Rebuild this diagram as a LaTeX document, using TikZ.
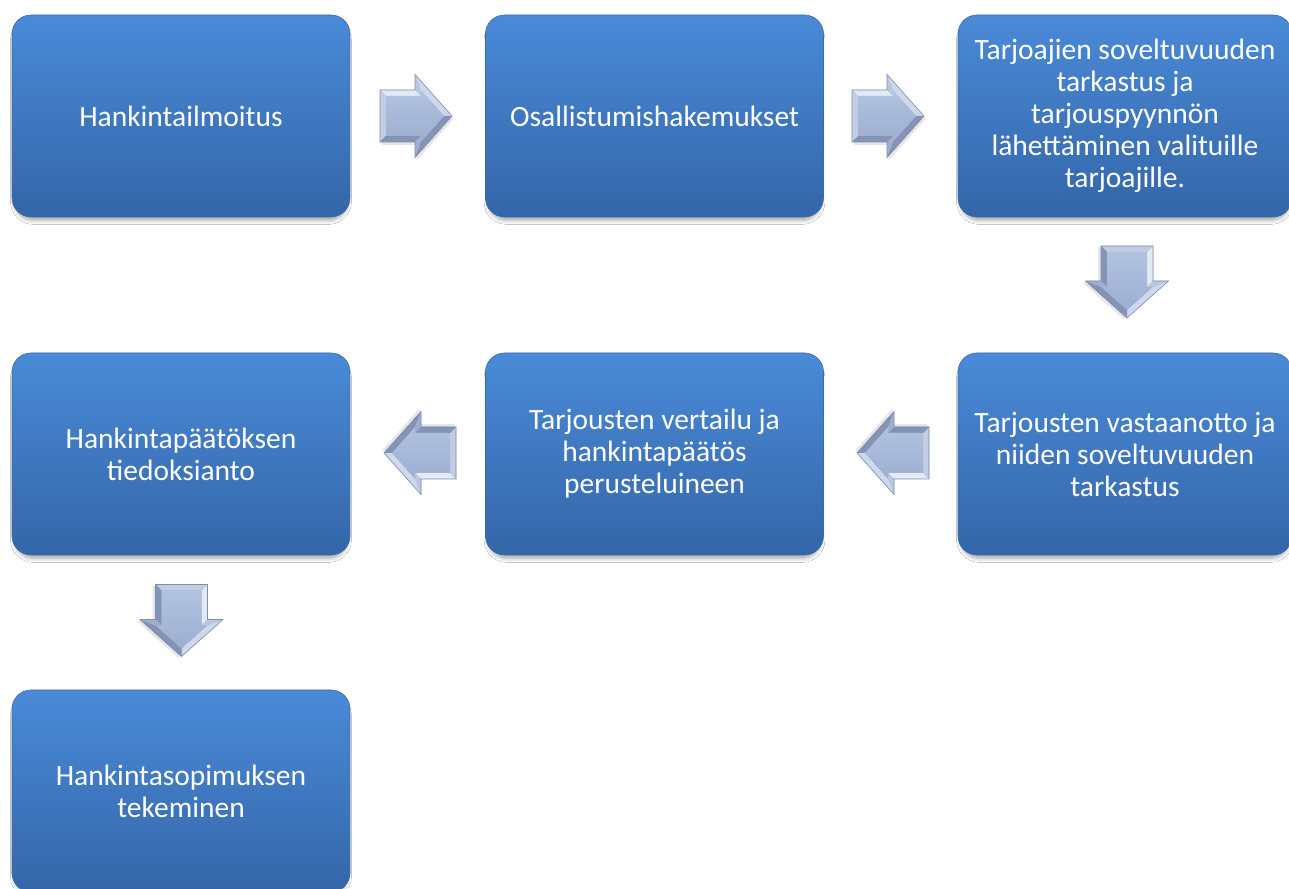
\documentclass[tikz,border=0pt]{standalone}
\usepackage{fontspec}
\setmainfont{Carlito}
\usetikzlibrary{shadows.blur}
\definecolor{boxtop}{RGB}{74,138,216}
\definecolor{boxmid}{RGB}{64,124,204}
\definecolor{boxbot}{RGB}{52,102,168}
\definecolor{boxline}{RGB}{58,106,172}
\definecolor{arrface}{RGB}{178,194,224}
\definecolor{arrfacelo}{RGB}{158,174,208}
\definecolor{arrlight}{RGB}{226,234,246}
\definecolor{arrmed}{RGB}{160,175,208}
\definecolor{arrdark}{RGB}{132,147,182}
\definecolor{arrline}{RGB}{128,142,174}
\tikzset{
  stepbox/.style={draw=boxline, line width=0.6pt, rounded corners=19pt,
    top color=boxtop, middle color=boxmid, bottom color=boxbot,
    minimum width=338pt, minimum height=202pt, inner sep=0pt,
    text=white, align=center, font=\fontsize{29.5}{32}\selectfont,
    blur shadow={shadow xshift=0pt, shadow yshift=-5pt, shadow blur radius=4pt, shadow opacity=35, shadow scale=0.985}},
}
\newcommand{\blockarrow}[2]{%
  \begin{scope}[shift={(#1)}, rotate=#2]
    \fill[black, opacity=0.10, xshift=1.5pt, yshift=-3pt]
      (-36,26) -- (-1,26) -- (-1,41.5) -- (36,0) -- (-1,-41.5) -- (-1,-26) -- (-36,-26) -- cycle;
    % outer base
    \fill[arrmed] (-36,26) -- (-1,26) -- (-1,41.5) -- (36,0) -- (-1,-41.5) -- (-1,-26) -- (-36,-26) -- cycle;
    % light faces
    \fill[arrlight] (-36,26) -- (-1,26) -- (5,20) -- (-30,20) -- cycle;
    \fill[arrlight!70!arrmed] (-1,41.5) -- (36,0) -- (27.96,0) -- (5,25.76) -- cycle;
    \fill[arrlight!50!arrmed] (-36,26) -- (-30,20) -- (-30,-20) -- (-36,-26) -- cycle;
    % dark faces
    \fill[arrdark] (-36,-26) -- (-1,-26) -- (5,-20) -- (-30,-20) -- cycle;
    \fill[arrdark] (-1,-41.5) -- (36,0) -- (27.96,0) -- (5,-25.76) -- cycle;
    \fill[arrmed] (-1,-41.5) -- (-1,-26) -- (5,-20) -- (5,-25.76) -- cycle;
    \fill[arrlight!40!arrmed] (-1,26) -- (-1,41.5) -- (5,25.76) -- (5,20) -- cycle;
    % main face
    \shade[top color=arrface, bottom color=arrfacelo]
      (-30,20) -- (5,20) -- (5,25.76) -- (27.96,0) -- (5,-25.76) -- (5,-20) -- (-30,-20) -- cycle;
    \draw[arrline, line width=0.6pt, line join=miter]
      (-36,26) -- (-1,26) -- (-1,41.5) -- (36,0) -- (-1,-41.5) -- (-1,-26) -- (-36,-26) -- cycle;
  \end{scope}}
\begin{document}
\begin{tikzpicture}[x=1pt, y=1pt]
  \useasboundingbox[fill=white] (0,0) rectangle (1289,888);
  % boxes
  \node[stepbox] (b1) at (181,772) {Hankintailmoitus};
  \node[stepbox] (b2) at (654.5,772) {Osallistumishakemukset};
  \node[stepbox, minimum width=334pt] (b3) at (1125,772)
    {Tarjoajien soveltuvuuden\\tarkastus ja\\tarjouspyynnön\\lähettäminen valituille\\tarjoajille.};
  \node[stepbox, minimum width=334pt] (b4) at (1125,434)
    {Tarjousten vastaanotto ja\\niiden soveltuvuuden\\tarkastus};
  \node[stepbox] (b5) at (654.5,434)
    {Tarjousten vertailu ja\\hankintapäätös\\perusteluineen};
  \node[stepbox] (b6) at (181,434) {Hankintapäätöksen\\tiedoksianto};
  \node[stepbox] (b7) at (181,97) {Hankintasopimuksen\\tekeminen};
  % arrow positions
  \coordinate (a12) at (416,772);
  \coordinate (a23) at (888,772);
  \coordinate (a34) at (1127,606);
  \coordinate (a45) at (893,435);
  \coordinate (a56) at (420,435);
  \coordinate (a67) at (181.5,267.5);
  \blockarrow{a12}{0}
  \blockarrow{a23}{0}
  \blockarrow{a34}{-90}
  \blockarrow{a45}{180}
  \blockarrow{a56}{180}
  \blockarrow{a67}{-90}
\end{tikzpicture}
\end{document}
